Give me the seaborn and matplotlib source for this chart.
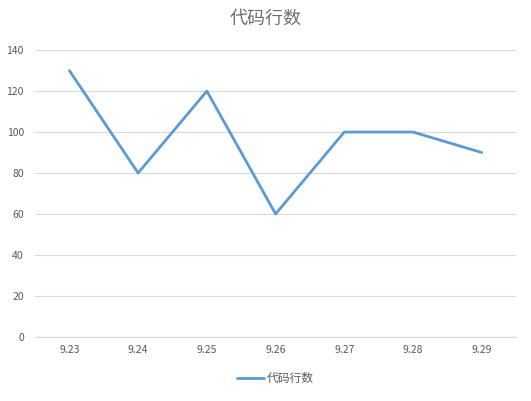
import pandas as pd
import seaborn as sns
import matplotlib.pyplot as plt

# chart data
dates = ['9.23', '9.24', '9.25', '9.26', '9.27', '9.28', '9.29']
lines_of_code = [130, 80, 120, 60, 100, 100, 90]
series_name = '代码行数'
y_ticks = [0, 20, 40, 60, 80, 100, 120, 140]

df = pd.DataFrame({'date': dates, 'lines': lines_of_code})

sns.set_style("white")
plt.rcParams['font.family'] = ['Noto Sans CJK SC', 'DejaVu Sans']

fig = plt.figure(figsize=(5.31, 4.01), dpi=100)
ax = fig.add_axes([0.066, 0.160, 0.906, 0.715])

sns.lineplot(data=df, x='date', y='lines', ax=ax, color='#5B9BD5',
             linewidth=2.0, label=series_name, sort=False)

ax.set_ylim(0, 140)
ax.set_xlim(-0.5, len(dates) - 0.5)
ax.set_yticks(y_ticks)
ax.grid(axis='y', color='#D9D9D9', linewidth=0.8)
ax.set_axisbelow(True)
ax.set_xlabel('')
ax.set_ylabel('')
ax.tick_params(axis='both', length=0, labelsize=7.5, colors='#595959')
ax.tick_params(axis='x', pad=6)
ax.tick_params(axis='y', pad=8)
for side in ['top', 'right', 'left']:
    ax.spines[side].set_visible(False)
ax.spines['bottom'].set_color('#D9D9D9')
ax.spines['bottom'].set_linewidth(0.8)

fig.suptitle(series_name, x=0.5, y=0.975, fontsize=13, color='#6E6E6E')

leg = ax.legend(loc='center', bbox_to_anchor=(0.5, -0.145), frameon=False,
                fontsize=8.5, handlelength=2.3, handletextpad=0.2)
for t in leg.get_texts():
    t.set_color('#595959')

plt.savefig('out.png', dpi=100)
